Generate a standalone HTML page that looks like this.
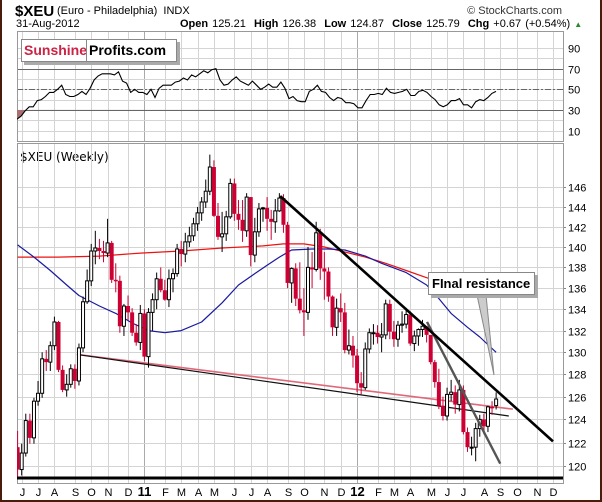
<!DOCTYPE html>
<html><head><meta charset="utf-8"><style>
body{margin:0;background:#fff;}
#wrap{position:relative;width:602px;height:502px;overflow:hidden;background:#fff;font-family:"Liberation Sans",sans-serif;}
.t{position:absolute;white-space:nowrap;color:#000;}
</style></head><body>
<div id="wrap">
<div class="t" style="left:15px;top:3px;font-size:15px;font-weight:bold;">$XEU</div>
<div class="t" style="left:57px;top:5px;font-size:11px;">(Euro - Philadelphia)&nbsp; INDX</div>
<div class="t" style="right:40px;top:5px;font-size:11px;color:#333;">© StockCharts.com</div>
<div class="t" style="left:16px;top:18px;font-size:11px;">31-Aug-2012</div>
<div class="t" style="left:180px;top:18px;font-size:11px;word-spacing:1px;"><b>Open</b> 125.21&nbsp; <b>High</b> 126.38&nbsp; <b>Low</b> 124.87&nbsp; <b>Close</b> 125.79&nbsp; <b>Chg</b> +0.67 (+0.54%) <span style="color:#2a8a2a;font-size:8px;">▲</span></div>
<div class="t" style="left:20px;top:150px;font-size:12px;font-family:'DejaVu Sans',sans-serif;">$XEU (Weekly)</div>
<svg id="svg" width="602" height="502" style="position:absolute;left:0;top:0;"></svg>
<div style="position:absolute;left:21px;top:39px;width:154px;height:21px;border:1px solid #888;background:#fff;box-shadow:3px 3px 0 #aaa;font-size:14px;font-weight:bold;line-height:21px;white-space:nowrap;">
<span style="position:absolute;left:2px;color:#cc2244;">Sunshine</span>
<span style="position:absolute;left:64px;top:0;height:21px;border-left:1px solid #888;"></span>
<span style="position:absolute;left:67px;">Profits.com</span></div>
<div style="position:absolute;left:428px;top:272px;width:102px;height:21px;border:1px solid #888;background:#fff;box-shadow:3px 3px 0 #aaa;font-size:13px;font-weight:bold;line-height:21px;padding-left:3px;white-space:nowrap;">FInal resistance</div>
<div style="position:absolute;left:0;top:0;width:2px;height:502px;background:#4a1c0c;"></div>
<div style="position:absolute;right:0;top:0;width:2px;height:502px;background:#4a1c0c;"></div>
<div style="position:absolute;left:0;bottom:0;width:602px;height:2px;background:#4a1c0c;"></div>
</div>
<script>
const opens=[121.6,119.7,121.1,123.9,122.4,125.6,126.3,129.4,129.1,130.6,132.8,128.4,126.6,127.1,128.5,127.4,130.4,134.7,136.7,139.6,139.9,139.6,139.4,140.4,136.8,136.7,132.4,134.3,133.7,131.8,130.9,
133.6,129.6,133.7,134.9,136.9,135.8,134.9,136.9,137.4,139.8,139.3,140.5,141.1,142.3,143.4,144.5,145.6,148.1,143.1,141.0,141.3,143.0,146.4,143.3,142.7,141.6,145.0,139.2,141.5,143.8,143.9,142.8,142.5,143.6,144.9,142.2,136.5,137.9,135.0,133.9,133.7,138.0,137.8,141.4,137.9,137.6,135.2,132.3,134.1,133.7,130.2,130.6,
129.7,127.2,126.8,130.3,131.8,131.8,131.4,131.6,134.5,131.9,131.2,132.5,132.6,133.5,130.8,131.5,132.1,132.4,131.6,129.1,127.3,125.2,124.3,126.2,126.4,125.3,126.6,122.9,121.6,121.6,123.2,124.0,123.4,125.1,125.21];
const closes=[119.7,121.1,123.9,122.4,125.6,126.3,129.4,129.1,130.6,132.8,128.4,126.6,127.1,128.5,127.4,130.4,134.7,136.7,139.6,139.9,139.6,139.4,140.4,136.8,136.7,132.4,134.3,133.7,131.8,130.9,133.6,
129.6,133.7,134.9,136.9,135.8,134.9,136.9,137.4,139.8,139.3,140.5,141.1,142.3,143.4,144.5,145.6,148.1,143.1,141.0,141.3,143.0,146.4,143.3,142.7,141.6,145.0,139.2,141.5,143.8,143.9,142.8,142.5,143.6,144.9,142.2,136.5,137.9,135.0,133.9,133.7,138.0,137.8,141.4,137.9,137.6,135.2,132.3,134.1,133.7,130.2,130.6,129.7,
127.2,126.8,130.3,131.8,131.8,131.4,131.6,134.5,131.9,131.2,132.5,132.6,133.5,130.8,131.5,132.1,132.4,131.6,129.1,127.3,125.2,124.3,126.2,126.4,125.3,126.6,122.9,121.6,121.6,123.2,124.0,123.4,125.1,125.0,125.79];
const highs=[123.0,121.9,124.5,124.5,125.9,127.4,130.0,130.2,131.0,133.3,132.9,128.8,128.0,128.9,128.9,130.8,135.2,137.8,140.3,141.6,140.8,140.6,142.8,140.6,138.4,137.2,134.5,135.3,134.1,132.6,134.4,
134.0,134.1,135.5,137.5,138.0,136.8,137.8,137.9,140.3,140.6,141.4,142.0,142.9,144.0,145.0,146.8,149.4,148.8,144.4,143.5,143.6,146.9,146.9,144.7,144.7,145.4,145.0,142.9,144.4,144.0,145.0,143.7,144.8,145.4,145.3,142.5,138.0,138.4,138.5,136.0,140.0,139.5,142.5,141.8,139.5,138.0,135.3,135.0,135.5,134.6,132.1,131.5,
130.3,128.2,130.9,132.2,132.6,132.5,132.7,134.9,134.9,132.9,132.9,133.8,133.9,133.8,132.0,132.2,133.0,132.4,131.4,129.3,128.5,126.0,126.8,127.5,127.0,127.5,127.0,123.3,122.5,123.7,124.4,124.5,125.2,125.6,126.38];
const lows=[118.9,119.2,120.8,121.9,121.9,125.2,125.9,128.3,128.3,130.2,128.2,126.4,126.0,126.8,126.7,127.0,130.0,134.5,136.2,138.3,138.8,138.5,139.0,136.5,135.6,131.8,131.5,133.0,131.5,130.6,130.2,
129.2,128.6,132.0,134.0,135.6,134.8,134.2,135.6,137.1,138.1,138.5,140.0,140.6,141.6,142.6,143.9,145.2,143.0,140.7,139.5,140.6,142.8,142.6,141.7,140.5,141.0,138.1,138.5,141.0,142.5,141.6,140.7,141.4,143.5,141.4,136.0,134.6,134.3,133.6,131.5,133.0,136.0,137.6,136.8,134.9,134.7,131.5,131.5,132.8,129.9,129.8,128.6,
126.4,126.2,126.6,129.9,130.7,130.8,130.0,131.2,131.2,130.5,130.5,131.8,132.2,130.6,130.1,130.6,131.4,130.9,128.9,126.8,124.9,123.9,123.9,125.6,124.5,124.7,122.7,121.2,120.9,120.4,122.5,122.7,122.9,124.4,124.87];
const rsiValues=[21,24,29,33,33,39,40,43,47,47,50,54,45,43,43,45,48,45,51,59,63,65,65,65,64,67,58,56,47,50,47,47,45,50,42,51,54,54,54,57,58,61,59,64,62,65,68,66,69,70,59,54,55,59,62,58,56,54,58,54,50,52,55,52,52,57,51,41,43,39,38,
38,48,50,54,48,47,42,39,42,41,37,37,36,32,32,39,45,45,46,45,51,47,46,47,48,50,44,44,48,49,47,43,40,35,33,35,39,39,41,35,35,32,38,40,39,42,46,48];
const maLongIdx=[0,10,20,30,40,50,60,65,70,75,80,85,90,95,100,105,110,117];
const maLongVal=[139.0,139.0,139.1,139.4,139.6,139.9,140.1,140.3,140.3,140.0,139.5,139.0,138.4,137.7,137.0,136.4,135.8,135.3];
const maShortIdx=[0,4,8,12,15,20,24,28,32,36,40,45,50,54,58,61,64,67,72,76,80,85,89,95,100,103,106,110,113,117];
const maShortVal=[140.2,139.0,137.7,136.3,135.3,134.3,133.6,132.7,132.0,131.8,132.0,132.8,134.6,136.3,137.4,138.2,139.0,139.7,139.8,139.8,139.7,139.1,138.4,137.5,136.3,135.0,133.6,132.3,131.4,130.0];
const priceTicks=[120,122,124,126,128,130,132,134,136,138,140,142,144,146];
const rsiTicks=[10,30,50,70,90];
const monthIdx=[1,5,9,14,18,22,27,31,36,40,44,48,53,57,61,66,70,75,79,83,88,92,96,101,105,109,114,118,122,127,131];
const monthLabels=["J","J","A","S","O","N","D","11","F","M","A","M","J","J","A","S","O","N","D","12","F","M","A","M","J","J","A","S","O","N","D"];

const NS="http://www.w3.org/2000/svg";
const svg=document.getElementById('svg');
const L=17,R=563,PT=143,PB=483,RT=31,RB=141;
function xOf(i){return 17.6+4.09*i;}
function yP(p){return 466-1421*Math.log(p/120);}
function yR(v){return 89.3-(v-50)*1.03;}
function el(tag,attrs,parent){const e=document.createElementNS(NS,tag);for(const k in attrs)e.setAttribute(k,attrs[k]);(parent||svg).appendChild(e);return e;}

const defs=el('defs',{});
const cp=el('clipPath',{id:'pc'},defs);el('rect',{x:L,y:PT,width:R-L,height:PB-PT},cp);
const cr=el('clipPath',{id:'rc'},defs);el('rect',{x:L,y:RT,width:R-L,height:RB-RT},cr);
const cb=el('clipPath',{id:'rb'},defs);el('rect',{x:L,y:yR(30),width:R-L,height:RB-yR(30)},cb);

const grid=el('g',{});


monthIdx.forEach((m,k)=>{
  const x=Math.round(xOf(m))+0.5;
  if(x<L||x>R)return;
  const yr=/\d/.test(monthLabels[k]);
  const c=yr?'#aaa':'#d4d4d4';
  el('line',{x1:x,x2:x,y1:RT,y2:RB,stroke:c,'stroke-width':1},grid);
  el('line',{x1:x,x2:x,y1:PT,y2:PB,stroke:c,'stroke-width':1},grid);
  const t=el('text',{x:x,y:496,'text-anchor':'middle','font-size':yr?13:11,'font-weight':yr?'bold':'normal','font-family':'Liberation Sans, sans-serif',fill:'#000'});
  t.textContent=monthLabels[k];
  
  
});
priceTicks.forEach(p=>{
  const y=Math.round(yP(p))+0.5;
  el('line',{x1:L,x2:R,y1:y,y2:y,stroke:'#d4d4d4'},grid);
  el('line',{x1:R,x2:R+3,y1:y,y2:y,stroke:'#888'},grid);
  const t=el('text',{x:R+5,y:y+4,'font-size':11,'font-family':'Liberation Sans, sans-serif',fill:'#000'});
  t.textContent=p;
  
  
});
for(let v=10;v<=90;v+=10){const y=Math.round(yR(v))+0.5;el('line',{x1:L,x2:R,y1:y,y2:y,stroke:'#d4d4d4'},grid);}
rsiTicks.forEach(v=>{
  const y=Math.round(yR(v))+0.5;
  const t=el('text',{x:R+5,y:y+4,'font-size':11,'font-family':'Liberation Sans, sans-serif',fill:'#000'});
  t.textContent=v;
  
  
});
[70,30].forEach(v=>{const y=Math.round(yR(v))+0.5;el('line',{x1:L,x2:R,y1:y,y2:y,stroke:'#666','stroke-width':1});});
el('line',{x1:L,x2:R,y1:Math.round(yR(50))+0.5,y2:Math.round(yR(50))+0.5,stroke:'#666','stroke-dasharray':'6,2,2,2'});
el('rect',{x:L+0.5,y:RT+0.5,width:R-L,height:RB-RT,fill:'none',stroke:'#999'});
el('rect',{x:L+0.5,y:PT+0.5,width:R-L,height:PB-PT,fill:'none',stroke:'#999'});

const rx=k=>17+k*(479/(rsiValues.length-1));
let pts=rsiValues.map((v,k)=>rx(k).toFixed(1)+','+yR(v).toFixed(1));
const fill=el('polygon',{points:pts.join(' ')+' '+rx(rsiValues.length-1)+','+yR(30)+' '+rx(0)+','+yR(30),fill:'#a87070','clip-path':'url(#rb)'});


const rl=el('polyline',{points:pts.join(' '),fill:'none',stroke:'#000','stroke-width':1.1,'clip-path':'url(#rc)'});



const pg=el('g',{'clip-path':'url(#pc)'});
function maPath(idx,val,color,name){
  const p=el('polyline',{points:idx.map((d,k)=>xOf(d).toFixed(1)+','+yP(val[k]).toFixed(1)).join(' '),fill:'none',stroke:color,'stroke-width':1.2,'stroke-linejoin':'round'},pg);
  
  
}
maPath(maLongIdx,maLongVal,'#ee1111','ma-long-red');
maPath(maShortIdx,maShortVal,'#1a1aa0','ma-short-blue');
function tl(i1,p1,i2,p2,c,w,name){
  const l=el('line',{x1:xOf(i1),y1:yP(p1),x2:xOf(i2),y2:yP(p2),stroke:c,'stroke-width':w},pg);
  
  
}
tl(14.5,129.8,121.1,124.9,'#e06878',1.6,'support-line-pink');
tl(14.5,129.8,120.1,124.3,'#111',1.2,'support-line-black');
for(let i=0;i<closes.length;i++){
  const x=xOf(i),o=opens[i],c=closes[i];
  const up=c>=o;
  const col=up?'#000':'#cc0033';
  const g=el('g',{},pg);
  
  
  el('line',{x1:x,x2:x,y1:yP(highs[i]),y2:yP(lows[i]),stroke:col,'stroke-width':1},g);
  const yt=yP(Math.max(o,c)),yb=yP(Math.min(o,c));
  if(up) el('rect',{x:x-1.5,y:yt,width:3,height:Math.max(yb-yt,1),fill:'#fff',stroke:'#000','stroke-width':1},g);
  else el('rect',{x:x-2,y:yt,width:4,height:Math.max(yb-yt,1.5),fill:'#cc0033'},g);
}
tl(100.1,132.8,118,120.2,'#555',2.4,'trend-line-gray');
tl(64.2,145.1,130.9,122.1,'#000',2.6,'resistance-line');
const bl=el('line',{x1:L,x2:R,y1:478,y2:478,stroke:'#000','stroke-width':3});


const cpnt=el('polygon',{points:'477,295 494,375 486,295',fill:'#ccc',stroke:'#888','stroke-width':1});


</script>
</body></html>
